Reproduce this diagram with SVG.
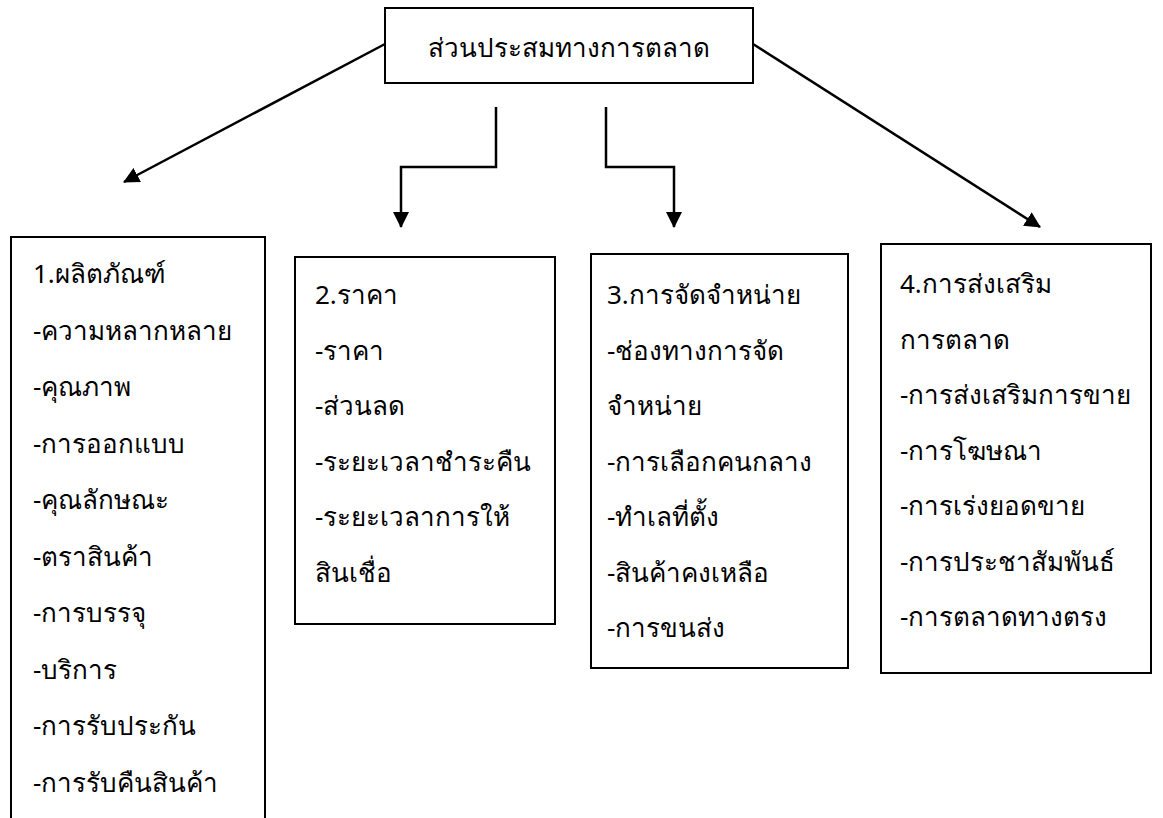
<svg xmlns="http://www.w3.org/2000/svg" width="1163" height="818" viewBox="0 0 1163 818">
<style>
.box{fill:#fff;stroke:#000;stroke-width:2}
.t{font-family:"Noto Sans","DejaVu Sans",sans-serif;font-size:26px;fill:#000}
.c{fill:none;stroke:#000;stroke-width:2.5}
</style>
<defs>
<marker id="ah" markerWidth="16" markerHeight="16" refX="15" refY="8" orient="auto" markerUnits="userSpaceOnUse" viewBox="0 0 16 16">
<path d="M0,0 L16,8 L0,16 z" fill="#000"/>
</marker>
</defs>
<rect width="1163" height="818" fill="#fff"/>
<g id="connectors">
<path class="c" d="M385,44 L124,182" marker-end="url(#ah)"/>
<path class="c" d="M496,107 V167 H401 V227" marker-end="url(#ah)"/>
<path class="c" d="M606,107 V167 H674 V227" marker-end="url(#ah)"/>
<path class="c" d="M753,44 L1040,227" marker-end="url(#ah)"/>
</g>
<g id="n0">
<rect class="box" x="385" y="8" width="368" height="75"/>
<text class="t" x="569" y="57" text-anchor="middle">ส่วนประสมทางการตลาด</text>
</g>
<g id="n1">
<rect class="box" x="11" y="237" width="254" height="600"/>
<text class="t" x="33">
<tspan x="33" y="283">1.ผลิตภัณฑ์</tspan>
<tspan x="33" y="339.5">-ความหลากหลาย</tspan>
<tspan x="33" y="396">-คุณภาพ</tspan>
<tspan x="33" y="452.5">-การออกแบบ</tspan>
<tspan x="33" y="509">-คุณลักษณะ</tspan>
<tspan x="33" y="565.5">-ตราสินค้า</tspan>
<tspan x="33" y="622">-การบรรจุ</tspan>
<tspan x="33" y="678.5">-บริการ</tspan>
<tspan x="33" y="735">-การรับประกัน</tspan>
<tspan x="33" y="791.5">-การรับคืนสินค้า</tspan>
</text>
</g>
<g id="n2">
<rect class="box" x="295" y="257" width="260" height="367"/>
<text class="t">
<tspan x="315" y="304">2.ราคา</tspan>
<tspan x="315" y="359.5">-ราคา</tspan>
<tspan x="315" y="415">-ส่วนลด</tspan>
<tspan x="315" y="470.5">-ระยะเวลาชำระคืน</tspan>
<tspan x="315" y="526">-ระยะเวลาการให้</tspan>
<tspan x="315" y="581.5">สินเชื่อ</tspan>
</text>
</g>
<g id="n3">
<rect class="box" x="591" y="254" width="257" height="414"/>
<text class="t">
<tspan x="607" y="304">3.การจัดจำหน่าย</tspan>
<tspan x="607" y="359.5">-ช่องทางการจัด</tspan>
<tspan x="607" y="415">จำหน่าย</tspan>
<tspan x="607" y="470.5">-การเลือกคนกลาง</tspan>
<tspan x="607" y="526">-ทำเลที่ตั้ง</tspan>
<tspan x="607" y="581.5">-สินค้าคงเหลือ</tspan>
<tspan x="607" y="637">-การขนส่ง</tspan>
</text>
</g>
<g id="n4">
<rect class="box" x="881" y="244" width="270" height="429"/>
<text class="t">
<tspan x="900" y="293">4.การส่งเสริม</tspan>
<tspan x="900" y="348.5">การตลาด</tspan>
<tspan x="900" y="404">-การส่งเสริมการขาย</tspan>
<tspan x="900" y="459.5">-การโฆษณา</tspan>
<tspan x="900" y="515">-การเร่งยอดขาย</tspan>
<tspan x="900" y="570.5">-การประชาสัมพันธ์</tspan>
<tspan x="900" y="626">-การตลาดทางตรง</tspan>
</text>
</g>
</svg>
